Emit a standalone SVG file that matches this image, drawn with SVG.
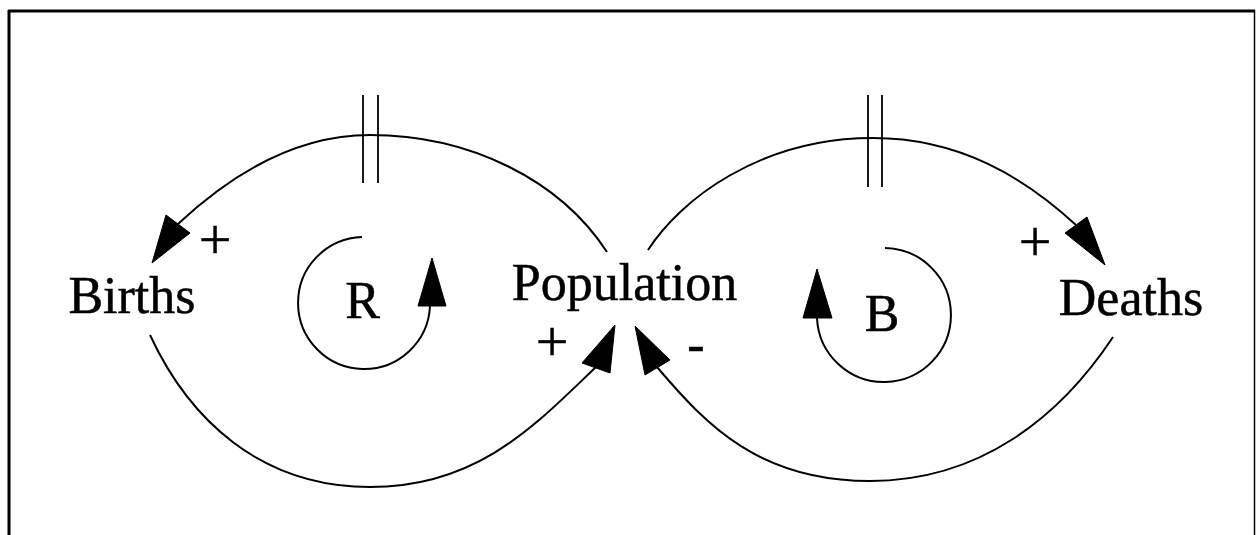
<svg xmlns="http://www.w3.org/2000/svg" width="1258" height="535" viewBox="0 0 1258 535">
<style>
.lbl{font-family:"Liberation Serif","Times New Roman",serif;font-size:52px;fill:#000;stroke:#000;stroke-width:0.5;text-anchor:middle}
.sgn{font-family:"Liberation Serif","Times New Roman",serif;font-size:58px;fill:#000;stroke:#000;stroke-width:0.5;text-anchor:middle}
.ln{fill:none;stroke:#000;stroke-width:2}
.ah{fill:#000;stroke:#000;stroke-width:1}
.delay{stroke:#000;stroke-width:1.8}
</style>
<rect x="0" y="0" width="1258" height="535" fill="#fff"/>
<g id="frame">
<line x1="8" y1="11" x2="1255" y2="11" stroke="#000" stroke-width="3"/>
<line x1="9" y1="10" x2="9" y2="535" stroke="#000" stroke-width="3"/>
<line x1="1254.5" y1="10" x2="1254.5" y2="535" stroke="#000" stroke-width="1.5"/>
</g>
<g id="connectors">
<path class="ln" d="M607,252 C560,180 470,135 370,135 C290,135 225,180 178,224"/>
<polygon class="ah" points="152,263 166,215 190,233"/>
<line class="delay" x1="363" y1="95" x2="363" y2="183"/>
<line class="delay" x1="378" y1="95" x2="378" y2="183"/>
<path class="ln" d="M648,250 C680,200 760,138 873,138 C960,138 1025,178 1076,225"/>
<polygon class="ah" points="1105,265 1065,233 1087,217"/>
<line class="delay" x1="868" y1="95" x2="868" y2="187"/>
<line class="delay" x1="882" y1="95" x2="882" y2="187"/>
<path class="ln" d="M150,335 C189,419 260,487 370,487 C480,487 538,422 596,367"/>
<polygon class="ah" points="615,325 582,363 610,373"/>
<path class="ln" d="M1113,337 C1060,417 980,481 870,481 C760,481 707,426 657,367"/>
<polygon class="ah" points="635,326 645,375 670,360"/>
<path class="ln" d="M362,237 A66,66 0 1 0 430,306"/>
<polygon class="ah" points="432,258 418,306 446,306"/>
<path class="ln" d="M885,248 A67,67 0 1 1 817,318"/>
<polygon class="ah" points="817,269 803,318 832,318"/>
</g>
<g id="births"><text class="lbl" x="132" y="313">Births</text></g>
<g id="population"><text class="lbl" x="624.5" y="300">Population</text></g>
<g id="deaths"><text class="lbl" x="1131" y="315">Deaths</text></g>
<g id="loop-r"><text class="lbl" x="362.5" y="318">R</text></g>
<g id="loop-b"><text class="lbl" x="882" y="331">B</text></g>
<g id="polarities">
<text class="sgn" x="215" y="259">+</text>
<text class="sgn" x="1035" y="261">+</text>
<text class="sgn" x="552" y="361">+</text>
<text class="lbl" x="696" y="362">-</text>
</g>
</svg>
